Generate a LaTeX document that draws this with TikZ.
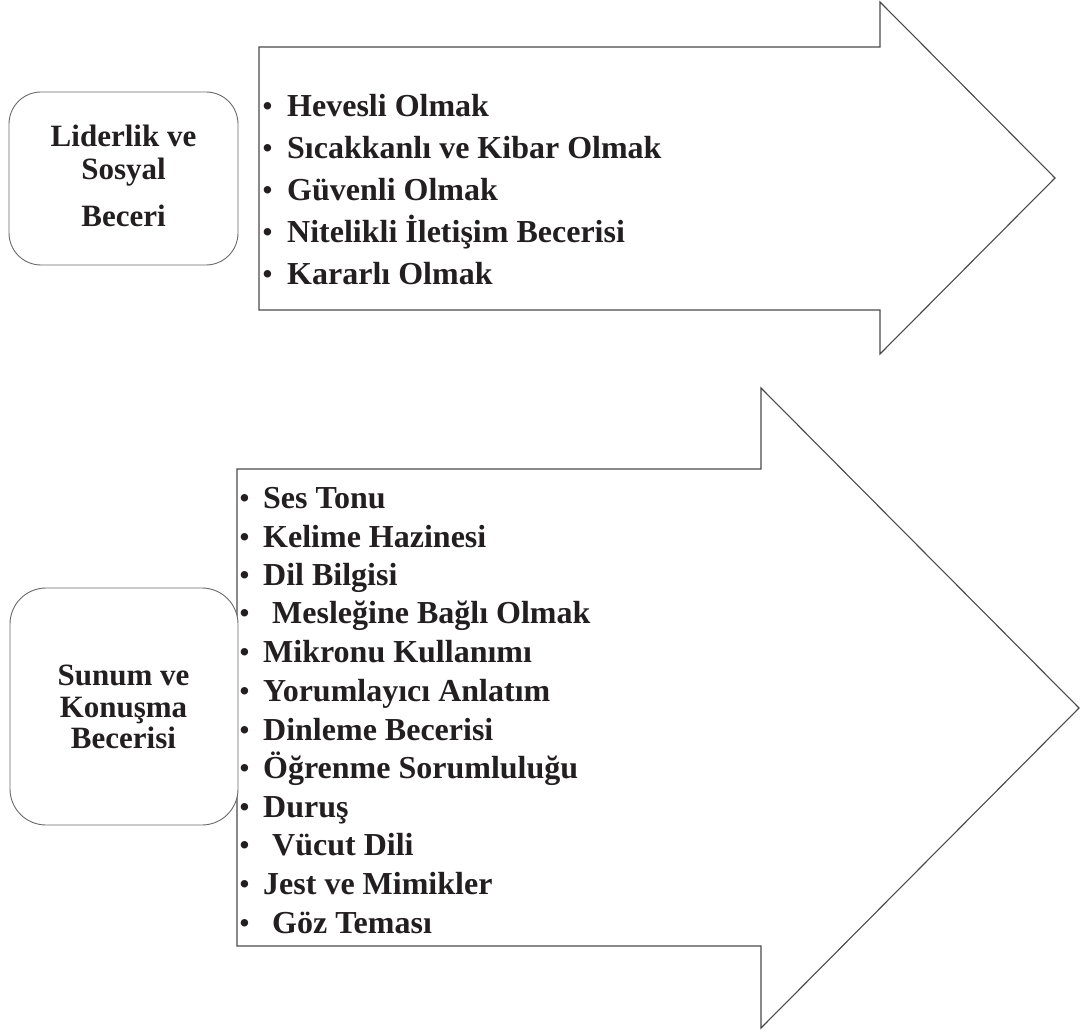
\documentclass[tikz,border=0pt]{standalone}
\usepackage{fontspec}
\setmainfont{Liberation Serif}
\definecolor{ink}{HTML}{231F20}
\definecolor{linegray}{HTML}{4A4A4A}
\definecolor{boxgray}{HTML}{6A6A6A}
\begin{document}
\begin{tikzpicture}[x=1pt,y=-1pt,
  arrowshape/.style={draw=linegray, line width=1.1pt, fill=white, line join=miter},
  skillbox/.style={draw=boxgray, line width=0.9pt, rounded corners=32pt, fill=white, inner sep=0pt},
  boxtext/.style={anchor=base, inner sep=0pt, font=\bfseries\fontsize{31}{31}\selectfont, text=ink},
  itemtext/.style={anchor=base west, inner sep=0pt, font=\bfseries\fontsize{32}{32}\selectfont, text=ink},
  dot/.style={anchor=base west, inner sep=0pt, font=\fontsize{31}{31}\selectfont, text=ink},
]
\useasboundingbox (0,0) rectangle (1085,1032);

% upper block arrow
\draw[arrowshape] (259,47) -- (880,47) -- (880,2) -- (1055,178) -- (880,354)
  -- (880,310) -- (259,310) -- cycle;

% lower block arrow
\draw[arrowshape] (237,469) -- (761,469) -- (761,388) -- (1079,708) -- (761,1028)
  -- (761,946) -- (237,946) -- cycle;

% skill boxes
\node[skillbox, minimum width=229pt, minimum height=173pt] (lead) at (123.5,178.5) {};
\node[skillbox, minimum width=228pt, minimum height=237pt, rounded corners=36pt] (talk) at (124,706.5) {};

\node[boxtext] (lead1) at (123.5,147) {Liderlik ve};
\node[boxtext] (lead2) at (123.5,180) {Sosyal};
\node[boxtext] (lead3) at (123.5,227) {Beceri};

\node[boxtext] (talk1) at (123.5,685) {Sunum ve};
\node[boxtext] (talk2) at (123.5,717) {Konuşma};
\node[boxtext] (talk3) at (123.5,748) {Becerisi};

% upper list
\foreach \t/\y [count=\i] in {Hevesli Olmak/117, Sıcakkanlı ve Kibar Olmak/159,
    Güvenli Olmak/201, Nitelikli İletişim Becerisi/243, Kararlı Olmak/285} {
  \node[dot] (ub\i) at (262,\y) {•};
  \node[itemtext] (ut\i) at (287,\y) {\t};
}

% lower list
\foreach \t/\x/\y [count=\i] in {Ses Tonu/263/508, Kelime Hazinesi/263/547,
    Dil Bilgisi/263/585, Mesleğine Bağlı Olmak/272/623, Mikronu Kullanımı/263/662,
    Yorumlayıcı Anlatım/263/701, Dinleme Becerisi/263/740, Öğrenme Sorumluluğu/263/778,
    Duruş/263/817, Vücut Dili/272/855, Jest ve Mimikler/263/894, Göz Teması/272/933} {
  \node[dot] (lb\i) at (239,\y) {•};
  \node[itemtext] (lt\i) at (\x,\y) {\t};
}
\end{tikzpicture}
\end{document}
